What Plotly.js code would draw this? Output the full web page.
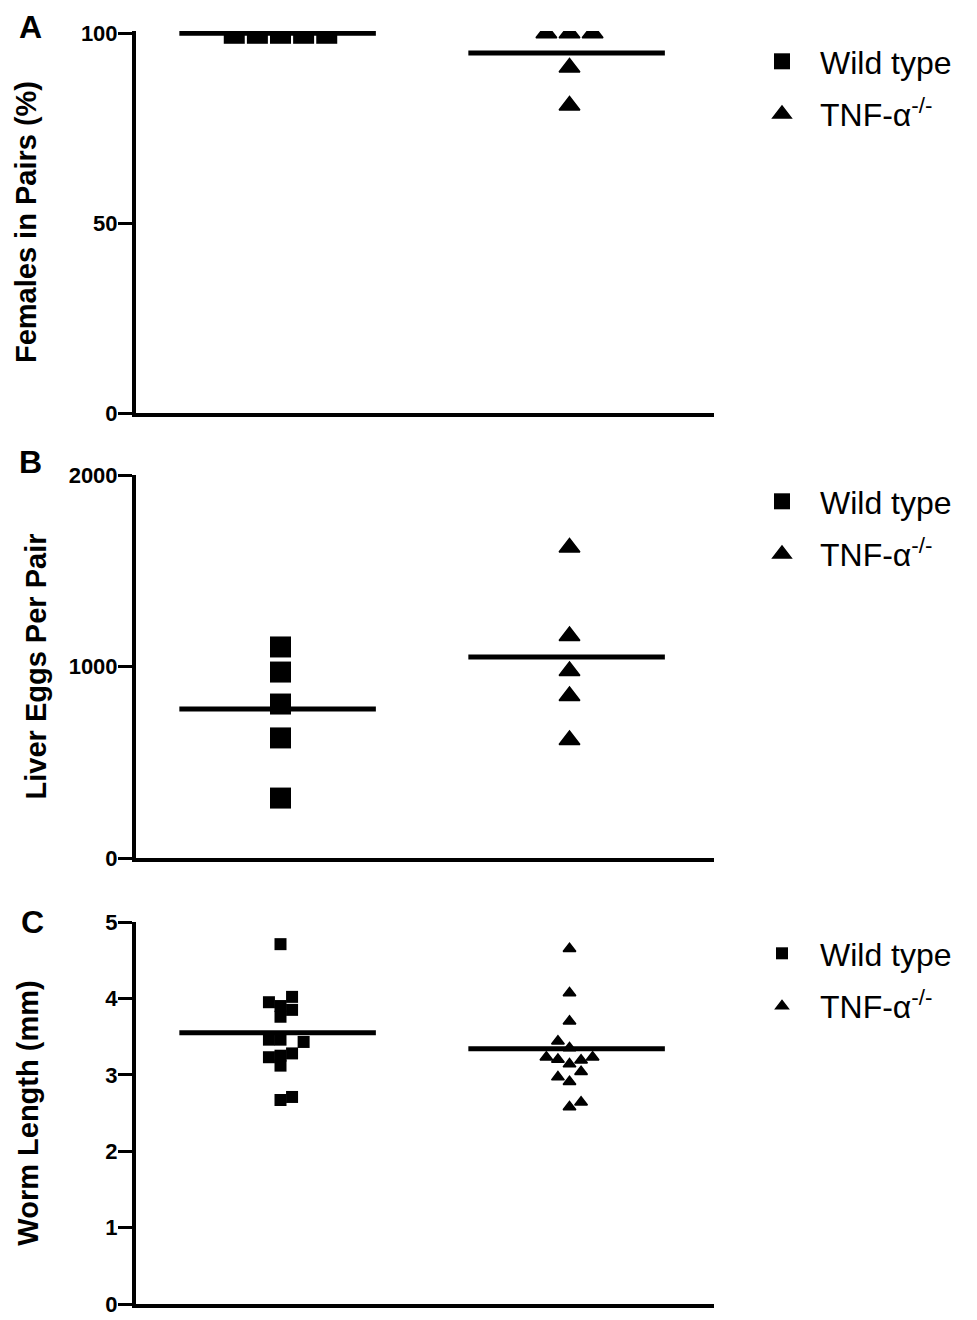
<!DOCTYPE html>
<html>
<head>
<meta charset="utf-8">
<script src="https://cdn.plot.ly/plotly-3.0.1.min.js"></script>
<style>
  html, body { margin: 0; padding: 0; background: #fff; }
  #chart { width: 977px; height: 1320px; }
</style>
</head>
<body>
<div id="chart"></div>
<script>
// ---------- DATA ----------
const groupNames = ["Wild type", "TNF-α<sup>-/-</sup>"];
const groupPositions = [1, 2];

// Panel A: Females in pairs (%)
const pairsWT = [100, 100, 100, 100, 100];
const pairsWTOffset = [-0.16, -0.08, 0, 0.08, 0.16];
const pairsTNF = [100, 100, 100, 91, 81];
const pairsTNFOffset = [-0.08, 0, 0.08, 0, 0];
const pairsMeans = [100, 94.8];

// Panel B: Liver eggs per pair
const eggsWT = [1102, 971, 804, 627, 313];
const eggsWTOffset = [0, 0, 0, 0, 0];
const eggsTNF = [1621, 1159, 977, 846, 616];
const eggsTNFOffset = [0, 0, 0, 0, 0];
const eggsMeans = [778, 1050];

// Panel C: Worm length (mm)
const lenWT = [4.71, 4.02, 3.95, 3.90, 3.85, 3.76, 3.46, 3.46, 3.43, 3.23, 3.25, 3.28, 3.12, 2.71, 2.67];
const lenWTOffset = [0, 0.04, -0.04, 0, 0.04, 0, -0.04, 0, 0.08, -0.04, 0, 0.04, 0, 0.04, 0];
const lenTNF = [4.65, 4.07, 3.70, 3.44, 3.35, 3.23, 3.20, 3.23, 3.19, 3.14, 3.04, 2.97, 2.91, 2.64, 2.58];
const lenTNFOffset = [0, 0, 0, -0.04, 0, -0.08, -0.04, 0.08, 0.04, 0, 0.04, -0.04, 0, 0.04, 0];
const lenMeans = [3.55, 3.34];

// Axis ticks
const pairsTicks = [0, 50, 100];
const eggsTicks = [0, 1000, 2000];
const lenTicks = [0, 1, 2, 3, 4, 5];

const panelLetters = ["A", "B", "C"];
const yTitles = ["Females in Pairs (%)", "Liver Eggs Per Pair", "Worm Length (mm)"];

// ---------- BUILD ----------
const FONT = "Liberation Sans, Arial, sans-serif";
const MEAN_LEFT = -0.35, MEAN_RIGHT = 0.33;

function pts(center, offsets) { return offsets.map(o => center + o); }

function panel(ax, wt, wtOff, tnf, tnfOff, means, sq, tri, legendId) {
  const xa = 'x' + ax, ya = 'y' + ax;
  const traces = [];
  traces.push({
    type: 'scatter', mode: 'markers', name: groupNames[0],
    x: pts(groupPositions[0], wtOff), y: wt, xaxis: xa, yaxis: ya,
    marker: { symbol: 'square', size: sq, color: '#000' },
    legend: legendId, legendgroup: legendId + 'wt', hoverinfo: 'y'
  });
  traces.push({
    type: 'scatter', mode: 'markers', name: groupNames[1],
    x: pts(groupPositions[1], tnfOff), y: tnf, xaxis: xa, yaxis: ya,
    marker: { symbol: 'triangle-up', size: tri, color: '#000', line: { color: '#000', width: 1.5 } },
    legend: legendId, legendgroup: legendId + 'tnf', hoverinfo: 'y'
  });
  means.forEach((m, i) => {
    traces.push({
      type: 'scatter', mode: 'lines', showlegend: false,
      x: [groupPositions[i] + MEAN_LEFT, groupPositions[i] + MEAN_RIGHT], y: [m, m],
      xaxis: xa, yaxis: ya, line: { color: '#000', width: 5 }, hoverinfo: 'skip'
    });
  });
  return traces;
}

const data = [].concat(
  panel('', pairsWT, pairsWTOffset, pairsTNF, pairsTNFOffset, pairsMeans, 21, 18, 'legend'),
  panel('2', eggsWT, eggsWTOffset, eggsTNF, eggsTNFOffset, eggsMeans, 21, 18, 'legend2'),
  panel('3', lenWT, lenWTOffset, lenTNF, lenTNFOffset, lenMeans, 12, 11, 'legend3')
);

const W = 977, H = 1320;
const xDom = [136 / W, 714 / W];
function yDom(topPx, botPx) { return [1 - botPx / H, 1 - topPx / H]; }

function xAxis(anchor) {
  return {
    domain: xDom, anchor: anchor, range: [0.5, 2.5],
    showline: true, linewidth: 4, linecolor: '#000', mirror: false,
    showgrid: false, zeroline: false, ticks: '', showticklabels: false, fixedrange: true
  };
}
function yAxis(anchor, dom, range, ticks, title, standoff) {
  return {
    domain: dom, anchor: anchor, range: range, tickvals: ticks,
    showline: true, linewidth: 4, linecolor: '#000',
    showgrid: false, zeroline: false,
    ticks: 'outside', ticklen: 14, tickwidth: 3, tickcolor: '#000',
    ticklabelstandoff: -4,
    tickfont: { family: FONT, size: 22, color: '#000', weight: 700 },
    title: { text: title, standoff: standoff, font: { family: FONT, size: 29, color: '#000', weight: 700 } },
    fixedrange: true
  };
}
function legendAt(yTopPx) {
  return {
    x: 744 / W, xanchor: 'left', y: 1 - yTopPx / H, yanchor: 'top',
    font: { family: FONT, size: 32, color: '#000' },
    bgcolor: 'rgba(0,0,0,0)', borderwidth: 0, tracegroupgap: 8,
    itemwidth: 66, traceorder: 'grouped'
  };
}

const layout = {
  width: W, height: H,
  margin: { l: 0, r: 0, t: 0, b: 0 },
  paper_bgcolor: '#fff', plot_bgcolor: '#fff',
  showlegend: true,
  xaxis: xAxis('y'),
  yaxis: yAxis('x', yDom(31, 413), [0, 100.6], pairsTicks, yTitles[0], 37),
  xaxis2: xAxis('y2'),
  yaxis2: yAxis('x2', yDom(475, 858), [0, 2000], eggsTicks, yTitles[1], 14),
  xaxis3: xAxis('y3'),
  yaxis3: yAxis('x3', yDom(922, 1304), [0, 5], lenTicks, yTitles[2], 59),
  legend: legendAt(34),
  legend2: legendAt(474),
  legend3: legendAt(926),
  annotations: [
    { text: panelLetters[0], x: 31 / W, y: 1 - 27 / H },
    { text: panelLetters[1], x: 31 / W, y: 1 - 462 / H },
    { text: panelLetters[2], x: 32 / W, y: 1 - 922 / H }
  ].map(a => Object.assign(a, {
    xref: 'paper', yref: 'paper', xanchor: 'center', yanchor: 'middle', showarrow: false,
    font: { family: FONT, size: 32, color: '#000', weight: 700 }
  }))
};

Plotly.newPlot('chart', data, layout, { displayModeBar: false, staticPlot: true });
</script>
</body>
</html>
